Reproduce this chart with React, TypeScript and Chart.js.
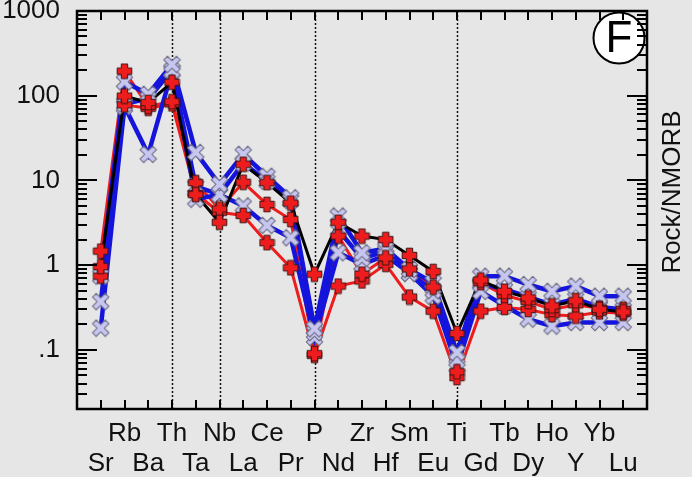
import React, { useEffect, useRef } from 'react';
import { Chart, registerables } from 'chart.js';

Chart.register(...registerables);

// ---------- data ----------
const elements = ['Sr', 'Rb', 'Ba', 'Th', 'Ta', 'Nb', 'La', 'Ce', 'Pr', 'P', 'Nd', 'Zr', 'Hf', 'Sm', 'Eu', 'Ti', 'Gd', 'Tb', 'Dy', 'Ho', 'Y', 'Yb', 'Lu'];

const blackSeries = [0.96, 99, 83, 144, 6.8, 3.2, 15.5, 9.4, 5.4, 0.78, 3.2, 2.2, 2.0, 1.3, 0.84, 0.156, 0.665, 0.49, 0.41, 0.33, 0.38, 0.30, 0.28];
const redHigh = [1.46, 195, 75, 85, 9.4, 4.6, 9.5, 5.2, 3.45, 0.09, 2.2, 0.78, 1.22, 0.9, 0.55, 0.055, 0.62, 0.44, 0.37, 0.30, 0.34, 0.31, 0.30];
const redLow = [0.74, 78, 71, 80, 7.0, 4.2, 3.86, 1.84, 0.93, 0.086, 0.565, 0.65, 1.02, 0.42, 0.286, 0.047, 0.286, 0.316, 0.30, 0.26, 0.25, 0.28, 0.27];
const blueHigh = [0.74, 146, 104, 234, 21.4, 9.0, 20.3, 11.2, 6.25, 0.177, 3.8, 1.4, 1.56, 0.89, 0.62, 0.093, 0.74, 0.74, 0.59, 0.49, 0.565, 0.43, 0.43];
const blueMid = [0.37, 80, 92, 200, 8.5, 6.8, 16, 9.8, 5.8, 0.16, 2.6, 1.2, 1.45, 0.8, 0.5, 0.075, 0.6, 0.52, 0.42, 0.34, 0.40, 0.32, 0.30];
const blueLow = [0.18, 75, 20.3, 195, 6.0, 6.8, 5.0, 2.94, 2.1, 0.14, 1.4, 1.02, 1.3, 0.8, 0.43, 0.064, 0.49, 0.33, 0.23, 0.19, 0.21, 0.21, 0.21];

const yTickValues = [0.1, 1, 10, 100, 1000];
const yTickLabels = ['.1', '1', '10', '100', '1000'];
const yMin = 0.02;
const yMax = 1000;
const dividerElements = ['Th', 'Nb', 'P', 'Ti'];
const axisTitle = 'Rock/NMORB';
const panelLetter = 'F';

// ---------- style ----------
const BG = '#e6e6e6';
const FONT = '"Liberation Sans", Arial, Helvetica, sans-serif';
const RED = '#ee1c1c';
const BLUE = '#1414dc';
const BLACK = '#000000';

function makePlus(): HTMLCanvasElement {
  const c = document.createElement('canvas');
  c.width = 17; c.height = 17;
  const g = c.getContext('2d')!;
  const a = 3.2, b = 7.3, cx = 8.5, cy = 8.5;
  g.beginPath();
  g.moveTo(cx - a, cy - b); g.lineTo(cx + a, cy - b); g.lineTo(cx + a, cy - a);
  g.lineTo(cx + b, cy - a); g.lineTo(cx + b, cy + a); g.lineTo(cx + a, cy + a);
  g.lineTo(cx + a, cy + b); g.lineTo(cx - a, cy + b); g.lineTo(cx - a, cy + a);
  g.lineTo(cx - b, cy + a); g.lineTo(cx - b, cy - a); g.lineTo(cx - a, cy - a);
  g.closePath();
  g.fillStyle = RED; g.fill();
  g.strokeStyle = '#3a1414'; g.lineWidth = 1; g.stroke();
  return c;
}

function makeCross(): HTMLCanvasElement {
  const c = document.createElement('canvas');
  c.width = 19; c.height = 19;
  const g = c.getContext('2d')!;
  g.translate(9.5, 9.5);
  g.rotate(Math.PI / 4);
  const a = 2.6, b = 9;
  g.beginPath();
  g.moveTo(-a, -b); g.lineTo(a, -b); g.lineTo(a, -a);
  g.lineTo(b, -a); g.lineTo(b, a); g.lineTo(a, a);
  g.lineTo(a, b); g.lineTo(-a, b); g.lineTo(-a, a);
  g.lineTo(-b, a); g.lineTo(-b, -a); g.lineTo(-a, -a);
  g.closePath();
  g.fillStyle = '#c6c6f0'; g.fill();
  g.strokeStyle = '#6a6a80'; g.lineWidth = 1; g.stroke();
  return c;
}

const pad = (arr: number[]) => [null, ...arr, null];

const decoPlugin = {
  id: 'deco',
  beforeDraw(chart: any) {
    const { ctx, width, height } = chart;
    ctx.save();
    ctx.fillStyle = BG;
    ctx.fillRect(0, 0, width, height);
    ctx.restore();
  },
  beforeDatasetsDraw(chart: any) {
    const { ctx, chartArea } = chart;
    const xs = chart.scales.x;
    ctx.save();
    ctx.strokeStyle = '#111';
    ctx.lineWidth = 1.5;
    ctx.setLineDash([2, 2]);
    dividerElements.forEach((el) => {
      const x = Math.round(xs.getPixelForValue(elements.indexOf(el) + 1)) + 0.5;
      ctx.beginPath();
      ctx.moveTo(x, chartArea.top);
      ctx.lineTo(x, chartArea.bottom);
      ctx.stroke();
    });
    ctx.restore();
  },
  afterDatasetsDraw(chart: any) {
    const { ctx, chartArea } = chart;
    const { left, right, top, bottom } = chartArea;
    const xs = chart.scales.x;
    const ys = chart.scales.y;
    ctx.save();
    // panel letter circle
    const cxp = right - 28, cyp = top + 27, r = 25.5;
    ctx.beginPath();
    ctx.arc(cxp, cyp, r, 0, Math.PI * 2);
    ctx.fillStyle = '#ffffff';
    ctx.fill();
    ctx.lineWidth = 2;
    ctx.strokeStyle = '#000';
    ctx.stroke();
    ctx.fillStyle = '#000';
    ctx.font = `44px ${FONT}`;
    ctx.textAlign = 'center';
    ctx.textBaseline = 'middle';
    ctx.fillText(panelLetter, cxp, cyp + 2);

    // ticks
    ctx.strokeStyle = '#000';
    ctx.lineWidth = 2;
    ctx.beginPath();
    elements.forEach((_, i) => {
      const x = Math.round(xs.getPixelForValue(i + 1));
      ctx.moveTo(x, top); ctx.lineTo(x, top + 9);
      ctx.moveTo(x, bottom); ctx.lineTo(x, bottom - 9);
    });
    for (let e = -2; e <= 3; e++) {
      for (let m = 1; m <= 9; m++) {
        const v = m * Math.pow(10, e);
        if (v < yMin * 0.999 || v > yMax * 1.001) continue;
        const y = Math.round(ys.getPixelForValue(v));
        const len = m === 1 ? 20 : 10;
        ctx.moveTo(left, y); ctx.lineTo(left + len, y);
        ctx.moveTo(right, y); ctx.lineTo(right - len, y);
      }
    }
    ctx.stroke();

    // frame
    ctx.lineWidth = 2.5;
    ctx.strokeRect(left, top, right - left, bottom - top);

    // right axis title
    ctx.save();
    ctx.translate(673, (top + bottom) / 2 - 18);
    ctx.rotate(-Math.PI / 2);
    ctx.font = `26px ${FONT}`;
    ctx.fillStyle = '#111';
    ctx.textAlign = 'center';
    ctx.textBaseline = 'middle';
    ctx.fillText(axisTitle, 0, 0);
    ctx.restore();
    ctx.restore();
  },
};

export default function App() {
  const ref = useRef<HTMLCanvasElement>(null);
  useEffect(() => {
    const canvas = ref.current!;
    const plus = makePlus();
    const cross = makeCross();
    const labels: any[] = ['', ...elements.map((e, i) => (i % 2 === 0 ? ['', e] : [e, ''])), ''];

    const lineDs = (data: number[], color: string, width: number, order: number) => ({
      data: pad(data), borderColor: color, borderWidth: width, pointRadius: 0,
      showLine: true, tension: 0, order, fill: false,
    });
    const markDs = (data: number[], style: HTMLCanvasElement, order: number) => ({
      data: pad(data), showLine: false, pointStyle: style, pointRadius: 8,
      borderColor: 'transparent', backgroundColor: 'transparent', order,
    });

    const chart = new Chart(canvas, {
      type: 'line',
      data: {
        labels,
        datasets: [
          lineDs(redLow, RED, 3, 20),
          lineDs(redHigh, RED, 3, 19),
          lineDs(blueLow, BLUE, 4.5, 18),
          lineDs(blueMid, BLUE, 4.5, 17),
          lineDs(blueHigh, BLUE, 4.5, 16),
          lineDs(blackSeries, BLACK, 3, 15),
          markDs(blueLow, cross, 9),
          markDs(blueMid, cross, 8),
          markDs(blueHigh, cross, 7),
          markDs(redLow, plus, 6),
          markDs(redHigh, plus, 5),
          markDs(blackSeries, plus, 4),
        ] as any,
      },
      options: {
        responsive: false,
        animation: false,
        devicePixelRatio: 1,
        layout: { padding: { top: 11, right: 45, left: 0, bottom: 0 } },
        plugins: { legend: { display: false }, tooltip: { enabled: false } },
        scales: {
          x: {
            type: 'category',
            offset: false,
            grid: { display: false, drawTicks: false },
            border: { display: false },
            ticks: {
              autoSkip: false, maxRotation: 0, minRotation: 0, padding: 10,
              color: '#111',
              font: { family: FONT, size: 26, lineHeight: 30 / 26 },
            },
            afterFit: (s: any) => { s.height = 68; s.paddingLeft = 0; s.paddingRight = 0; },
          },
          y: {
            type: 'logarithmic',
            min: yMin, max: yMax, bounds: 'data',
            grid: { display: false, drawTicks: false },
            border: { display: false },
            afterBuildTicks: (s: any) => { s.ticks = yTickValues.map((v) => ({ value: v, major: true })); },
            ticks: {
              padding: 17,
              color: '#111',
              font: { family: FONT, size: 26 },
              callback: (_v: any, i: number) => yTickLabels[i],
            },
            afterFit: (s: any) => { s.width = 77; s.paddingTop = 0; s.paddingBottom = 0; },
          },
        },
      } as any,
      plugins: [decoPlugin],
    });
    return () => chart.destroy();
  }, []);

  return (
    <div style={{ position: 'fixed', left: 0, top: 0, width: 692, height: 477, background: BG }}>
      <canvas ref={ref} width={692} height={477} style={{ display: 'block', width: 692, height: 477 }} />
    </div>
  );
}
